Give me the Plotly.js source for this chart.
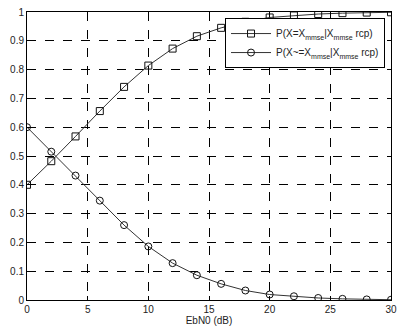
<!DOCTYPE html>
<html><head><meta charset="utf-8">
<script src="https://cdn.plot.ly/plotly-3.0.1.min.js"></script>
<style>html,body{margin:0;padding:0;background:#fff}#c{width:400px;height:332px}</style>
</head><body><div id="c"></div>
<script>
const ebn0 = [0,2,4,6,8,10,12,14,16,18,20,22,24,26,28,30];
const pEqual = [0.40,0.482,0.568,0.656,0.740,0.814,0.873,0.916,0.945,0.966,0.981,0.988,0.993,0.996,0.998,0.999];
const pNotEqual = [0.60,0.515,0.432,0.345,0.26,0.186,0.128,0.086,0.056,0.033,0.019,0.013,0.007,0.004,0.002,0.001];
const xTicks = [0,5,10,15,20,25,30];
const yTicks = [0,0.1,0.2,0.3,0.4,0.5,0.6,0.7,0.8,0.9,1];
const sub = '<sub><span style="color:#222">mmse</span></sub>';
const names = ['P(X=X' + sub + '|X' + sub + ' rcp)', 'P(X~=X' + sub + '|X' + sub + ' rcp)'];

const traces = [
 {x: ebn0, y: pEqual, name: names[0], mode:'lines+markers',
  line:{color:'#333', width:1}, marker:{symbol:'square-open', size:7, color:'#111', line:{width:1}}},
 {x: ebn0, y: pNotEqual, name: names[1], mode:'lines+markers',
  line:{color:'#333', width:1}, marker:{symbol:'circle-open', size:7, color:'#111', line:{width:1}}}
];
const axisCommon = {showline:true, mirror:'ticks', linecolor:'#000', linewidth:1,
  ticks:'inside', ticklen:4, tickcolor:'#000', showgrid:true, gridcolor:'#000',
  griddash:'dash', gridwidth:1, zeroline:false,
  tickfont:{family:'Liberation Sans, Arial, sans-serif', size:10, color:'#222'}};
const layout = {
  width:400, height:332, margin:{l:27, r:9, t:12, b:32},
  paper_bgcolor:'#fff', plot_bgcolor:'#fff', showlegend:true,
  font:{family:'Liberation Sans, Arial, sans-serif', size:10, color:'#222'},
  xaxis: Object.assign({}, axisCommon, {range:[0,30], tickvals:xTicks, ticktext:xTicks.map(String),
    title:{text:'EbN0 (dB)', standoff:2, font:{size:10}}}),
  yaxis: Object.assign({}, axisCommon, {range:[0,1], tickvals:yTicks, ticktext:yTicks.map(String)}),
  legend:{x:0.544, y:0.979, xanchor:'left', yanchor:'top', bgcolor:'#fff',
    bordercolor:'#000', borderwidth:1, font:{size:10, color:'#222'}, tracegroupgap:0, itemwidth:40}
};
Plotly.newPlot('c', traces, layout, {staticPlot:true});
</script></body></html>
